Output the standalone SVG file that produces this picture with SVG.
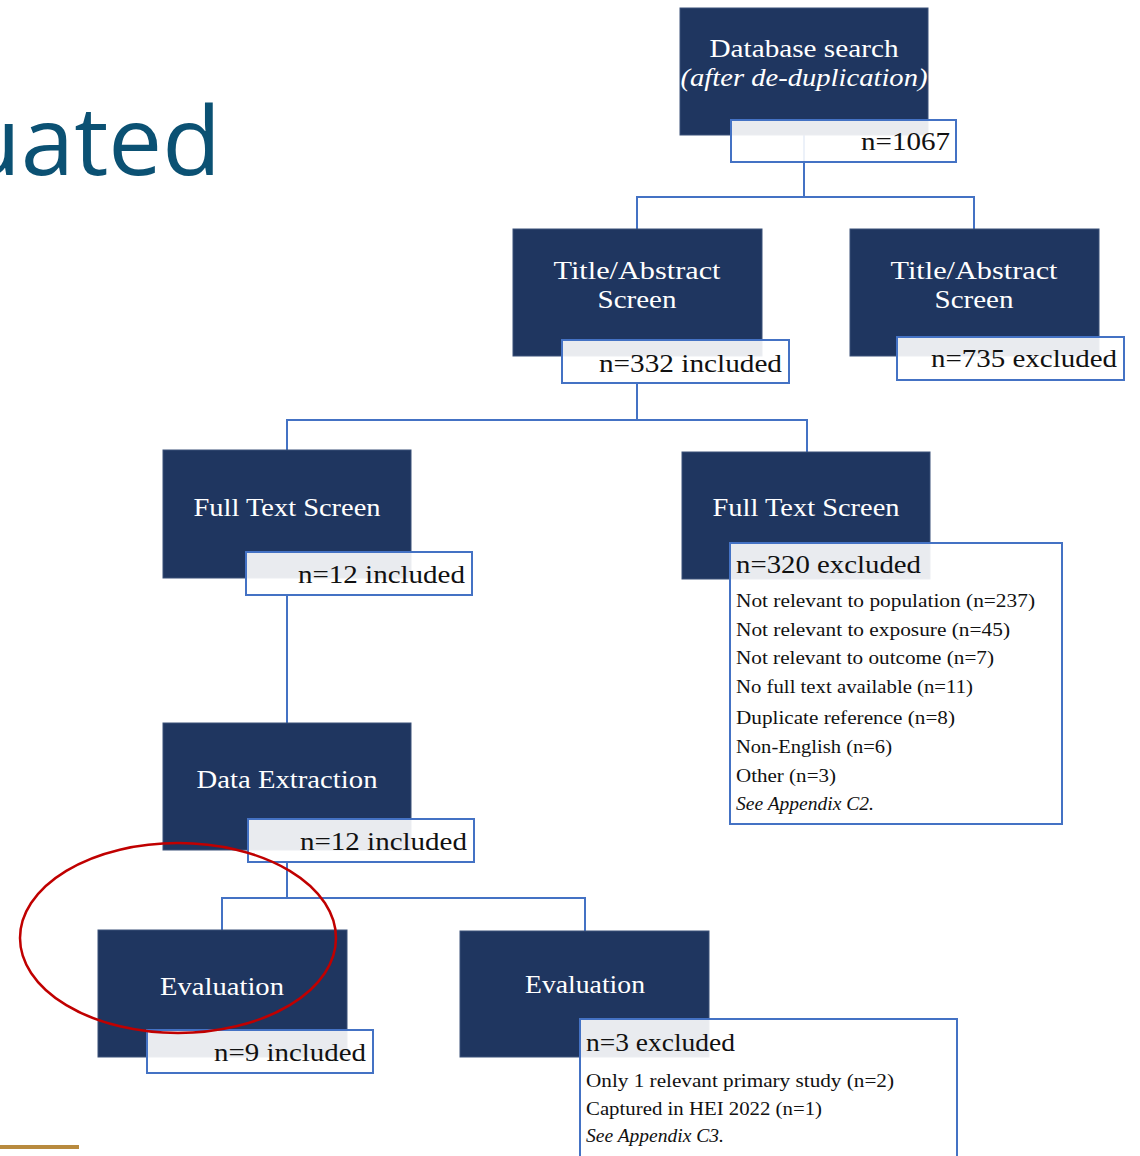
<svg xmlns="http://www.w3.org/2000/svg" width="1140" height="1156" viewBox="0 0 1140 1156">
<style>
.box{fill:#1f3660;stroke:#3a5079;stroke-width:1}
.lab{fill:#ffffff;fill-opacity:0.9;stroke:#4472c4;stroke-width:2}
.h{font-family:"Liberation Serif","DejaVu Serif",serif;font-size:25px;fill:#ffffff;text-anchor:middle}
.hi{font-style:italic}
.n{font-family:"Liberation Serif","DejaVu Serif",serif;font-size:25px;fill:#111111}
.r{text-anchor:end}
.s{font-family:"Liberation Serif","DejaVu Serif",serif;font-size:18px;fill:#111111}
.c{fill:none;stroke:#4472c4;stroke-width:2}
</style>
<rect width="1140" height="1156" fill="#ffffff"/>
<text x="221" y="175" font-family="'Open Sans','Noto Sans',sans-serif" font-size="96" fill="#0b5173" text-anchor="end">uated</text>
<rect x="0" y="1145" width="79" height="4" fill="#b88a3e"/>
<g id="connectors">
<path class="c" d="M804 135V197M637 229V197H974V229"/>
<path class="c" d="M637 383V420M287 450V420H807V452"/>
<path class="c" d="M287 595V723"/>
<path class="c" d="M287 862V898M222 930V898H585V931"/>
</g>
<g id="database-search">
<rect class="box" x="680" y="8" width="248" height="127"/>
<text class="h" x="804" y="57" textLength="189" lengthAdjust="spacingAndGlyphs">Database search</text>
<text class="h hi" x="804" y="86" textLength="247" lengthAdjust="spacingAndGlyphs">(after de-duplication)</text>
<rect class="lab" x="731" y="120" width="225" height="42"/>
<text class="n r" x="950" y="150" textLength="89" lengthAdjust="spacingAndGlyphs">n=1067</text>
</g>
<g id="title-abstract-included">
<rect class="box" x="513" y="229" width="249" height="127"/>
<text class="h" x="637" y="279" textLength="167" lengthAdjust="spacingAndGlyphs">Title/Abstract</text>
<text class="h" x="637" y="308" textLength="79" lengthAdjust="spacingAndGlyphs">Screen</text>
<rect class="lab" x="562" y="340" width="227" height="43"/>
<text class="n r" x="782" y="372" textLength="183" lengthAdjust="spacingAndGlyphs">n=332 included</text>
</g>
<g id="title-abstract-excluded">
<rect class="box" x="850" y="229" width="249" height="127"/>
<text class="h" x="974" y="279" textLength="167" lengthAdjust="spacingAndGlyphs">Title/Abstract</text>
<text class="h" x="974" y="308" textLength="79" lengthAdjust="spacingAndGlyphs">Screen</text>
<rect class="lab" x="897" y="337" width="227" height="43"/>
<text class="n r" x="1117" y="367" textLength="186" lengthAdjust="spacingAndGlyphs">n=735 excluded</text>
</g>
<g id="full-text-included">
<rect class="box" x="163" y="450" width="248" height="128"/>
<text class="h" x="287" y="516" textLength="187" lengthAdjust="spacingAndGlyphs">Full Text Screen</text>
<rect class="lab" x="246" y="552" width="226" height="43"/>
<text class="n r" x="465" y="583" textLength="167" lengthAdjust="spacingAndGlyphs">n=12 included</text>
</g>
<g id="full-text-excluded">
<rect class="box" x="682" y="452" width="248" height="127"/>
<text class="h" x="806" y="516" textLength="187" lengthAdjust="spacingAndGlyphs">Full Text Screen</text>
<rect class="lab" x="730" y="543" width="332" height="281"/>
<text class="n" x="736" y="573" textLength="185" lengthAdjust="spacingAndGlyphs">n=320 excluded</text>
<text class="s" x="736" y="607" textLength="299" lengthAdjust="spacingAndGlyphs">Not relevant to population (n=237)</text>
<text class="s" x="736" y="636" textLength="274" lengthAdjust="spacingAndGlyphs">Not relevant to exposure (n=45)</text>
<text class="s" x="736" y="664" textLength="258" lengthAdjust="spacingAndGlyphs">Not relevant to outcome (n=7)</text>
<text class="s" x="736" y="693" textLength="237" lengthAdjust="spacingAndGlyphs">No full text available (n=11)</text>
<text class="s" x="736" y="724" textLength="219" lengthAdjust="spacingAndGlyphs">Duplicate reference (n=8)</text>
<text class="s" x="736" y="753" textLength="156" lengthAdjust="spacingAndGlyphs">Non-English (n=6)</text>
<text class="s" x="736" y="782" textLength="100" lengthAdjust="spacingAndGlyphs">Other (n=3)</text>
<text class="s hi" x="736" y="810" textLength="138" lengthAdjust="spacingAndGlyphs">See Appendix C2.</text>
</g>
<g id="data-extraction">
<rect class="box" x="163" y="723" width="248" height="127"/>
<text class="h" x="287" y="788" textLength="181" lengthAdjust="spacingAndGlyphs">Data Extraction</text>
<rect class="lab" x="248" y="819" width="226" height="43"/>
<text class="n r" x="467" y="850" textLength="167" lengthAdjust="spacingAndGlyphs">n=12 included</text>
</g>
<g id="evaluation-included">
<rect class="box" x="98" y="930" width="249" height="127"/>
<text class="h" x="222" y="995" textLength="124" lengthAdjust="spacingAndGlyphs">Evaluation</text>
<rect class="lab" x="147" y="1030" width="226" height="43"/>
<text class="n r" x="366" y="1061" textLength="152" lengthAdjust="spacingAndGlyphs">n=9 included</text>
</g>
<g id="evaluation-excluded">
<rect class="box" x="460" y="931" width="249" height="126"/>
<text class="h" x="585" y="993" textLength="120" lengthAdjust="spacingAndGlyphs">Evaluation</text>
<rect class="lab" x="580" y="1019" width="377" height="150"/>
<text class="n" x="586" y="1051" textLength="149" lengthAdjust="spacingAndGlyphs">n=3 excluded</text>
<text class="s" x="586" y="1087" textLength="308" lengthAdjust="spacingAndGlyphs">Only 1 relevant primary study (n=2)</text>
<text class="s" x="586" y="1115" textLength="236" lengthAdjust="spacingAndGlyphs">Captured in HEI 2022 (n=1)</text>
<text class="s hi" x="586" y="1142" textLength="138" lengthAdjust="spacingAndGlyphs">See Appendix C3.</text>
</g>
<ellipse cx="178" cy="938" rx="158" ry="95" fill="none" stroke="#c00000" stroke-width="2.5"/>
</svg>
